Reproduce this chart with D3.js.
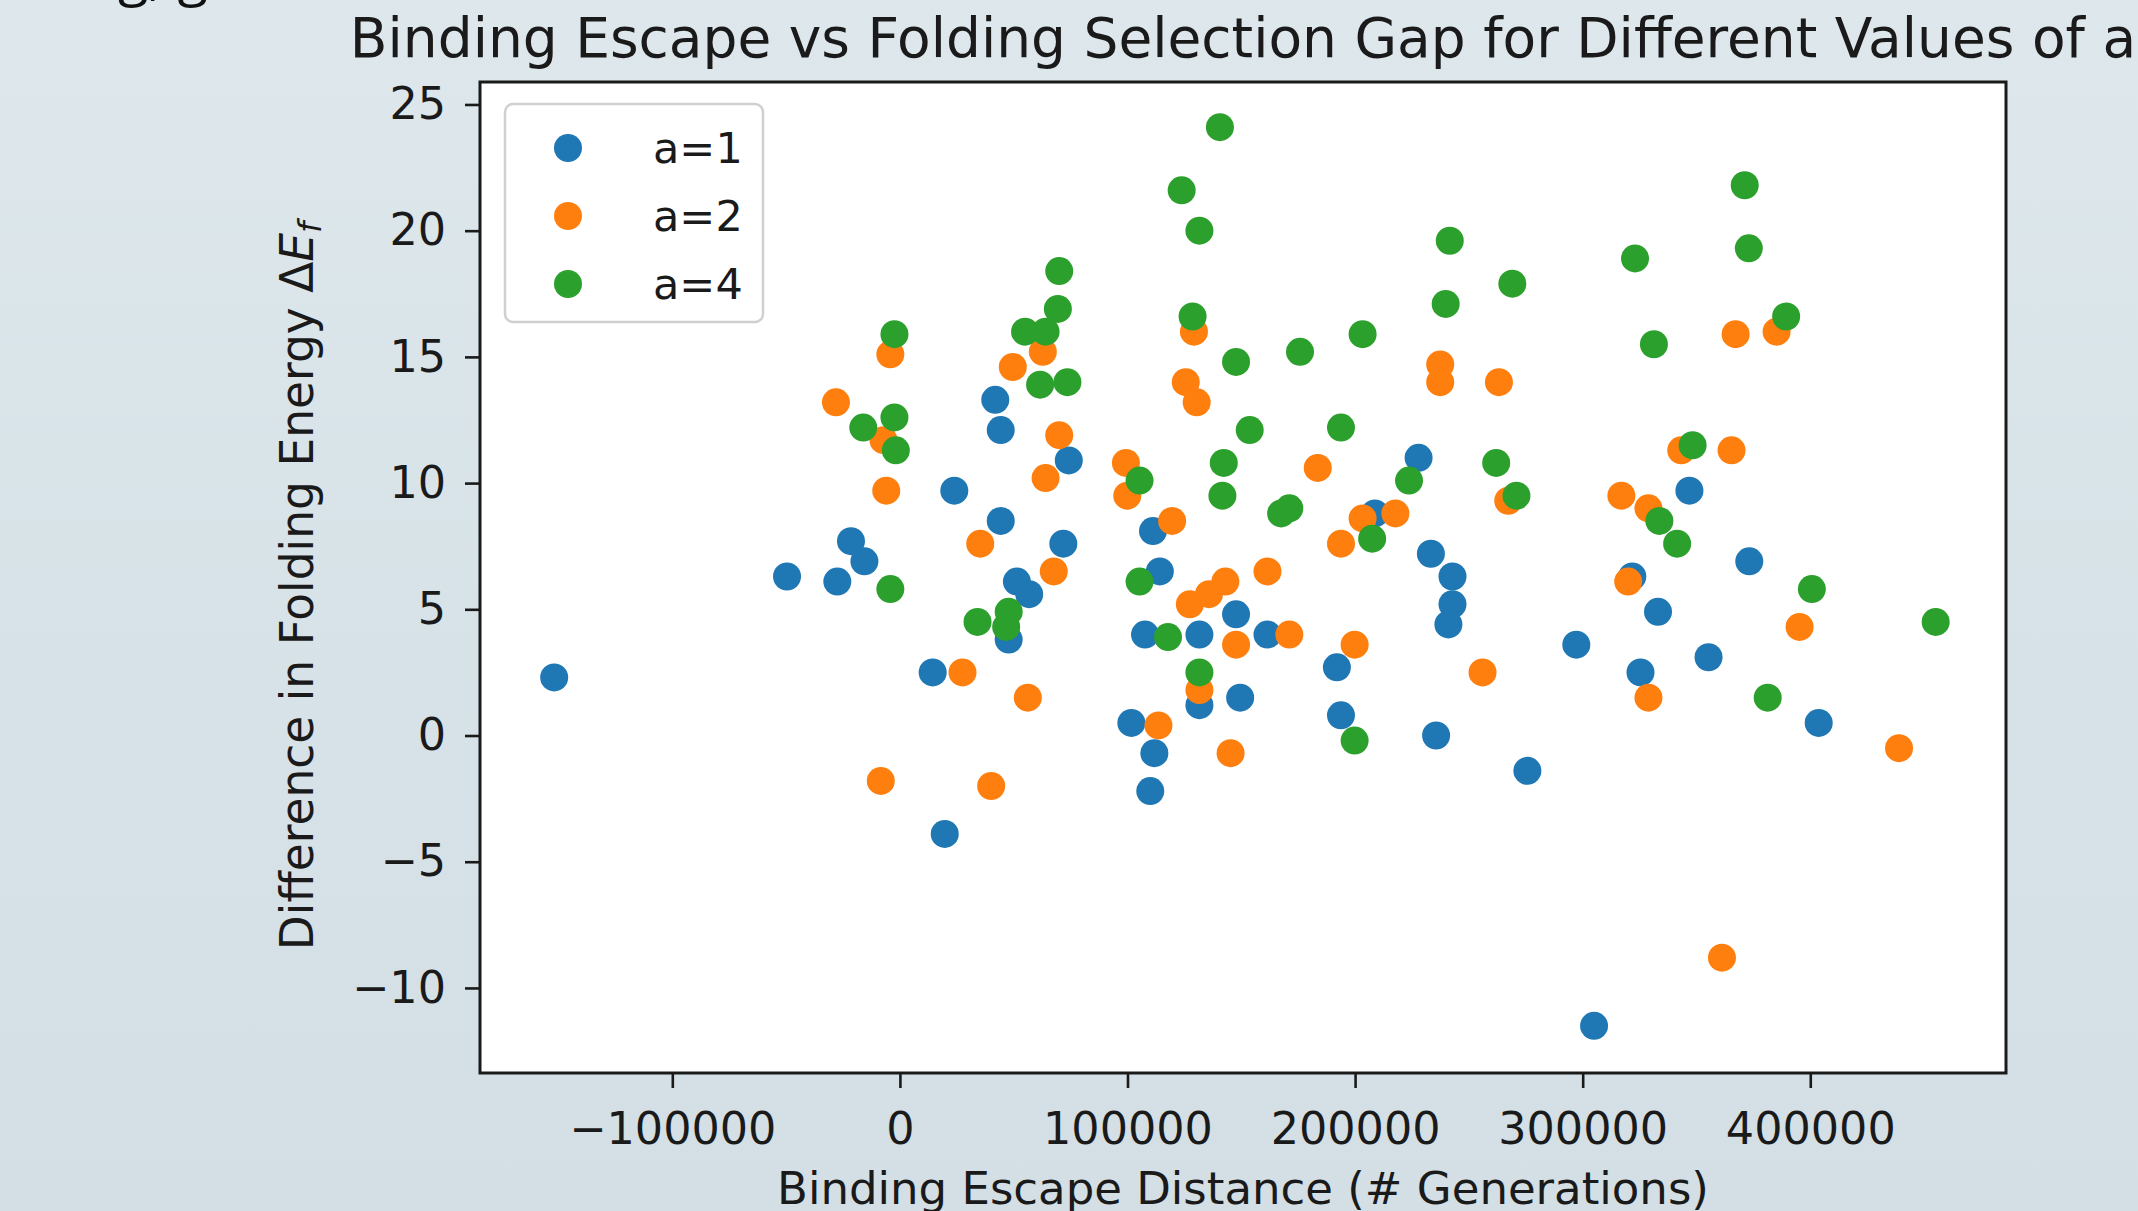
<!DOCTYPE html>
<html>
<head>
<meta charset="utf-8">
<script src="https://cdn.jsdelivr.net/npm/d3@7"></script>
<style>
  body { margin: 0; }
  svg { display: block; }
</style>
</head>
<body>
<div id="chart"></div>
<script>
// series labels and colours (matplotlib tab10)
const seriesLabels = ["a=1", "a=2", "a=4"];
const seriesColors = ["#1f77b4", "#ff7f0e", "#2ca02c"];

// a=1
const a1X = [-151900, -49600, -27500, -21500, -15600, 23900, 41900, 44300, 44300, 51400,
             56800, 47800, 14400, 19700, 74200, 71800, 101700, 107700, 111200, 114200,
             111800, 110000, 131600, 131600, 147700, 149500, 161500, 192000, 193800, 208700,
             227900, 233300, 242800, 242800, 241000, 235600, 275700, 297200, 305000, 321800,
             325400, 333100, 346900, 355300, 373200, 403700];
const a1Y = [2.3, 6.3, 6.1, 7.7, 6.9, 9.7, 13.3, 12.1, 8.5, 6.1,
             5.6, 3.8, 2.5, -3.9, 10.9, 7.6, 0.5, 4.0, 8.1, 6.5,
             -0.7, -2.2, 4.0, 1.2, 4.8, 1.5, 4.0, 2.7, 0.8, 8.8,
             11.0, 7.2, 6.3, 5.2, 4.4, 0.0, -1.4, 3.6, -11.5, 6.3,
             2.5, 4.9, 9.7, 3.1, 6.9, 0.5];

// a=2
const a2X = [-28100, -4200, -6000, -8400, -7200, 27500, 35300, 40100, 49600, 62800,
             64000, 70000, 67600, 56200, 99300, 99900, 119600, 125600, 130400, 129200,
             113600, 127400, 135800, 143000, 147700, 131600, 145300, 161500, 171100, 183600,
             193800, 203300, 217700, 199800, 237400, 237400, 263200, 267300, 256000, 317000,
             328900, 320000, 328900, 343300, 367200, 385200, 365400, 395300, 361200, 439000];
const a2Y = [13.2, 15.1, 9.7, -1.8, 11.7, 2.5, 7.6, -2.0, 14.6, 15.2,
             10.2, 11.9, 6.5, 1.5, 10.8, 9.5, 8.5, 14.0, 13.2, 16.0,
             0.4, 5.2, 5.6, 6.1, 3.6, 1.8, -0.7, 6.5, 4.0, 10.6,
             7.6, 8.6, 8.8, 3.6, 14.7, 14.0, 14.0, 9.3, 2.5, 9.5,
             9.0, 6.1, 1.5, 11.3, 15.9, 16.0, 11.3, 4.3, -8.8, -0.5];

// a=4
const a4X = [-16100, -2400, -2400, -1800, -4200, 34100, 47800, 46700, 55000, 64000,
             69400, 70000, 61600, 73600, 105300, 105300, 123800, 131600, 128600, 140600,
             142300, 141700, 147700, 153700, 117800, 131600, 175800, 171100, 167500, 193800,
             203300, 199800, 207500, 223700, 241600, 239800, 269100, 262000, 270900, 323000,
             331300, 371200, 373000, 389400, 348300, 333700, 341500, 381300, 400700, 455100];
const a4Y = [12.2, 15.9, 12.6, 11.3, 5.8, 4.5, 4.9, 4.3, 16.0, 16.0,
             16.9, 18.4, 13.9, 14.0, 10.1, 6.1, 21.6, 20.0, 16.6, 24.1,
             10.8, 9.5, 14.8, 12.1, 3.9, 2.5, 15.2, 9.0, 8.8, 12.2,
             15.9, -0.2, 7.8, 10.1, 19.6, 17.1, 17.9, 10.8, 9.5, 18.9,
             15.5, 21.8, 19.3, 16.6, 11.5, 8.5, 7.6, 1.5, 5.8, 4.5];

const xTicks = [-100000, 0, 100000, 200000, 300000, 400000];
const yTicks = [-10, -5, 0, 5, 10, 15, 20, 25];

const seriesX = [a1X, a2X, a4X];
const seriesY = [a1Y, a2Y, a4Y];

const w = 2138, h = 1211;
const pLeft = 480, pRight = 2006, pTop = 82, pBottom = 1073;
const font = "'DejaVu Sans', sans-serif";
const ink = "#1a1a1a";

const svg = d3.select("#chart").append("svg")
    .attr("width", w)
    .attr("height", h);

// page background
const grad = svg.append("defs").append("linearGradient")
    .attr("id", "bg").attr("x1", 0).attr("y1", 0).attr("x2", 0).attr("y2", 1);
grad.append("stop").attr("offset", "0%").attr("stop-color", "#dde7ec");
grad.append("stop").attr("offset", "100%").attr("stop-color", "#d3dfe5");
svg.append("rect").attr("width", w).attr("height", h).attr("fill", "url(#bg)");

// text from the page above, cut off by the screenshot's top edge
svg.append("text")
    .attr("x", 118).attr("y", -6)
    .attr("font-family", "'Open Sans', sans-serif")
    .attr("font-size", 56)
    .attr("fill", "#111")
    .text("g, g");

let x = d3.scaleLinear().domain([-184500, 486000]).range([pLeft, pRight]);
let y = d3.scaleLinear().domain([-13.37, 25.89]).range([pBottom, pTop]);

svg.append("rect")
    .attr("x", pLeft).attr("y", pTop)
    .attr("width", pRight - pLeft).attr("height", pBottom - pTop)
    .attr("fill", "#fff");

// points, drawn series by series so a=4 sits on top
seriesX.forEach(function(xs, i) {
    svg.append("g")
        .selectAll("circle")
        .data(xs.map((v, j) => [v, seriesY[i][j]]))
        .enter()
        .append("circle")
        .attr("cx", d => x(d[0]))
        .attr("cy", d => y(d[1]))
        .attr("r", 14)
        .attr("fill", seriesColors[i]);
});

// axes
const fmt = d3.format("d");
const xAxis = svg.append("g")
    .attr("transform", `translate(0,${pBottom})`)
    .call(d3.axisBottom(x).tickValues(xTicks).tickFormat(fmt).tickSize(15).tickPadding(24));
const yAxis = svg.append("g")
    .attr("transform", `translate(${pLeft},0)`)
    .call(d3.axisLeft(y).tickValues(yTicks).tickFormat(fmt).tickSize(15).tickPadding(19));

[xAxis, yAxis].forEach(function(a) {
    a.select(".domain").remove();
    a.selectAll(".tick line").attr("stroke", ink).attr("stroke-width", 2.6);
    a.selectAll(".tick text")
        .attr("font-family", font)
        .attr("font-size", 44.5)
        .attr("fill", ink);
});

svg.append("rect")
    .attr("x", pLeft).attr("y", pTop)
    .attr("width", pRight - pLeft).attr("height", pBottom - pTop)
    .attr("fill", "none")
    .attr("stroke", ink)
    .attr("stroke-width", 3);

// legend
const legend = svg.append("g");
legend.append("rect")
    .attr("x", 505).attr("y", 104)
    .attr("width", 258).attr("height", 218)
    .attr("rx", 8)
    .attr("fill", "#fff")
    .attr("stroke", "#d0d0d0")
    .attr("stroke-width", 2.5);
seriesLabels.forEach(function(lab, i) {
    const cy = 148 + i * 68;
    legend.append("circle")
        .attr("cx", 568).attr("cy", cy).attr("r", 14)
        .attr("fill", seriesColors[i]);
    legend.append("text")
        .attr("x", 653).attr("y", cy + 15)
        .attr("font-family", font)
        .attr("font-size", 43)
        .attr("fill", ink)
        .text(lab);
});

// title and axis labels
svg.append("text")
    .attr("x", (pLeft + pRight) / 2).attr("y", 57)
    .attr("text-anchor", "middle")
    .attr("font-family", font)
    .attr("font-size", 55)
    .attr("fill", ink)
    .text("Binding Escape vs Folding Selection Gap for Different Values of a");

svg.append("text")
    .attr("x", (pLeft + pRight) / 2).attr("y", 1204)
    .attr("text-anchor", "middle")
    .attr("font-family", font)
    .attr("font-size", 45)
    .attr("fill", ink)
    .text("Binding Escape Distance (# Generations)");

const yl = svg.append("text")
    .attr("transform", "translate(313,586) rotate(-90)")
    .attr("text-anchor", "middle")
    .attr("font-family", font)
    .attr("font-size", 45.5)
    .attr("fill", ink);
yl.append("tspan").text("Difference in Folding Energy \u0394");
yl.append("tspan").attr("font-style", "italic").text("E");
yl.append("tspan").attr("font-style", "italic").attr("font-size", 32).attr("dy", 8).text("f");
</script>
</body>
</html>
